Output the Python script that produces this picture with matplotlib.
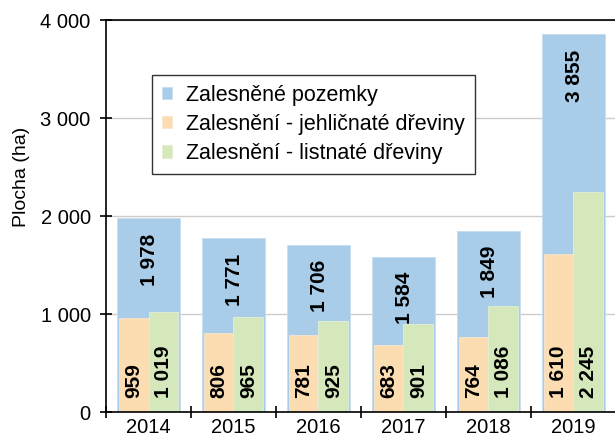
import matplotlib
matplotlib.use("Agg")
import matplotlib.pyplot as plt
from matplotlib.ticker import FixedLocator

plt.rcParams['font.family'] = ['Liberation Sans', 'DejaVu Sans']

years = ["2014", "2015", "2016", "2017", "2018", "2019"]
zalesnene = [1978, 1771, 1706, 1584, 1849, 3855]
jehlicnate = [959, 806, 781, 683, 764, 1610]
listnate = [1019, 965, 925, 901, 1086, 2245]
series_names = ["Zalesněné pozemky", "Zalesnění - jehličnaté dřeviny", "Zalesnění - listnaté dřeviny"]

c_blue = "#a9cde8"
c_orange = "#fcdcb1"
c_green = "#d5e8bb"

def fmt(v):
    return f"{v:,}".replace(",", " ")

fig = plt.figure(figsize=(6.15, 4.37), dpi=100)
ax = fig.add_axes([106/615, 25/437, 510/615, 392/437])

x = list(range(len(years)))
wb = 0.74
ws = 0.35
b1 = ax.bar(x, zalesnene, width=wb, color=c_blue, edgecolor="#c5def0", linewidth=0.6, label=series_names[0], zorder=2)
b2 = ax.bar([i - ws/2 for i in x], jehlicnate, width=ws, color=c_orange, edgecolor="#f5e6d0", linewidth=0.6, label=series_names[1], zorder=3)
b3 = ax.bar([i + ws/2 for i in x], listnate, width=ws, color=c_green, edgecolor="#e2efd2", linewidth=0.6, label=series_names[2], zorder=3)

lab_fs = 15
for i, v in enumerate(zalesnene):
    ax.annotate(fmt(v), (i, v), xytext=(1, -11), textcoords="offset points",
                rotation=90, ha="center", va="top", fontsize=lab_fs, fontweight="bold", zorder=5)
for i, v in enumerate(jehlicnate):
    ax.annotate(fmt(v), (i - ws/2, 0), xytext=(0, 10), textcoords="offset points",
                rotation=90, ha="center", va="bottom", fontsize=lab_fs, fontweight="bold", zorder=5)
for i, v in enumerate(listnate):
    ax.annotate(fmt(v), (i + ws/2, 0), xytext=(0, 10), textcoords="offset points",
                rotation=90, ha="center", va="bottom", fontsize=lab_fs, fontweight="bold", zorder=5)

tick_fs = 14.5
ax.set_xlim(-0.5, len(years) - 0.5)
ax.set_ylim(0, 4000)
ax.set_yticks([0, 1000, 2000, 3000, 4000])
ax.set_yticklabels([fmt(v) for v in [0, 1000, 2000, 3000, 4000]], fontsize=tick_fs)
ax.set_xticks(x)
ax.set_xticklabels(years, fontsize=tick_fs)
ax.tick_params(axis="x", which="major", length=0, pad=4)
ax.xaxis.set_minor_locator(FixedLocator([i - 0.5 for i in range(len(years) + 1)]))
ax.tick_params(axis="x", which="minor", direction="inout", length=8, width=1.2)
ax.tick_params(axis="y", direction="inout", length=8, width=1.2, pad=7)

ax.grid(axis="y", color="#cccccc", linewidth=1, zorder=0)
ax.set_axisbelow(True)
for s in ["left", "bottom", "top"]:
    ax.spines[s].set_linewidth(1.2)
    ax.spines[s].set_color("black")
ax.spines["right"].set_visible(False)
ax.spines["left"].set_zorder(6)
ax.spines["bottom"].set_zorder(6)

ax.set_ylabel("Plocha (ha)", fontsize=14)
ax.yaxis.set_label_coords(-76/510, 0.60)

leg = ax.legend(handles=[b1, b2, b3], loc="upper left", bbox_to_anchor=(46/510, 1 - 55/392),
                fontsize=15.5, frameon=True, fancybox=False, edgecolor="#333333",
                handlelength=0.5, handleheight=0.5, handletextpad=0.65, labelspacing=0.38,
                borderpad=0.45, borderaxespad=0)
leg.get_frame().set_linewidth(1.0)
leg.get_frame().set_alpha(1)
leg.set_zorder(10)

fig.savefig("out.png", dpi=100)
